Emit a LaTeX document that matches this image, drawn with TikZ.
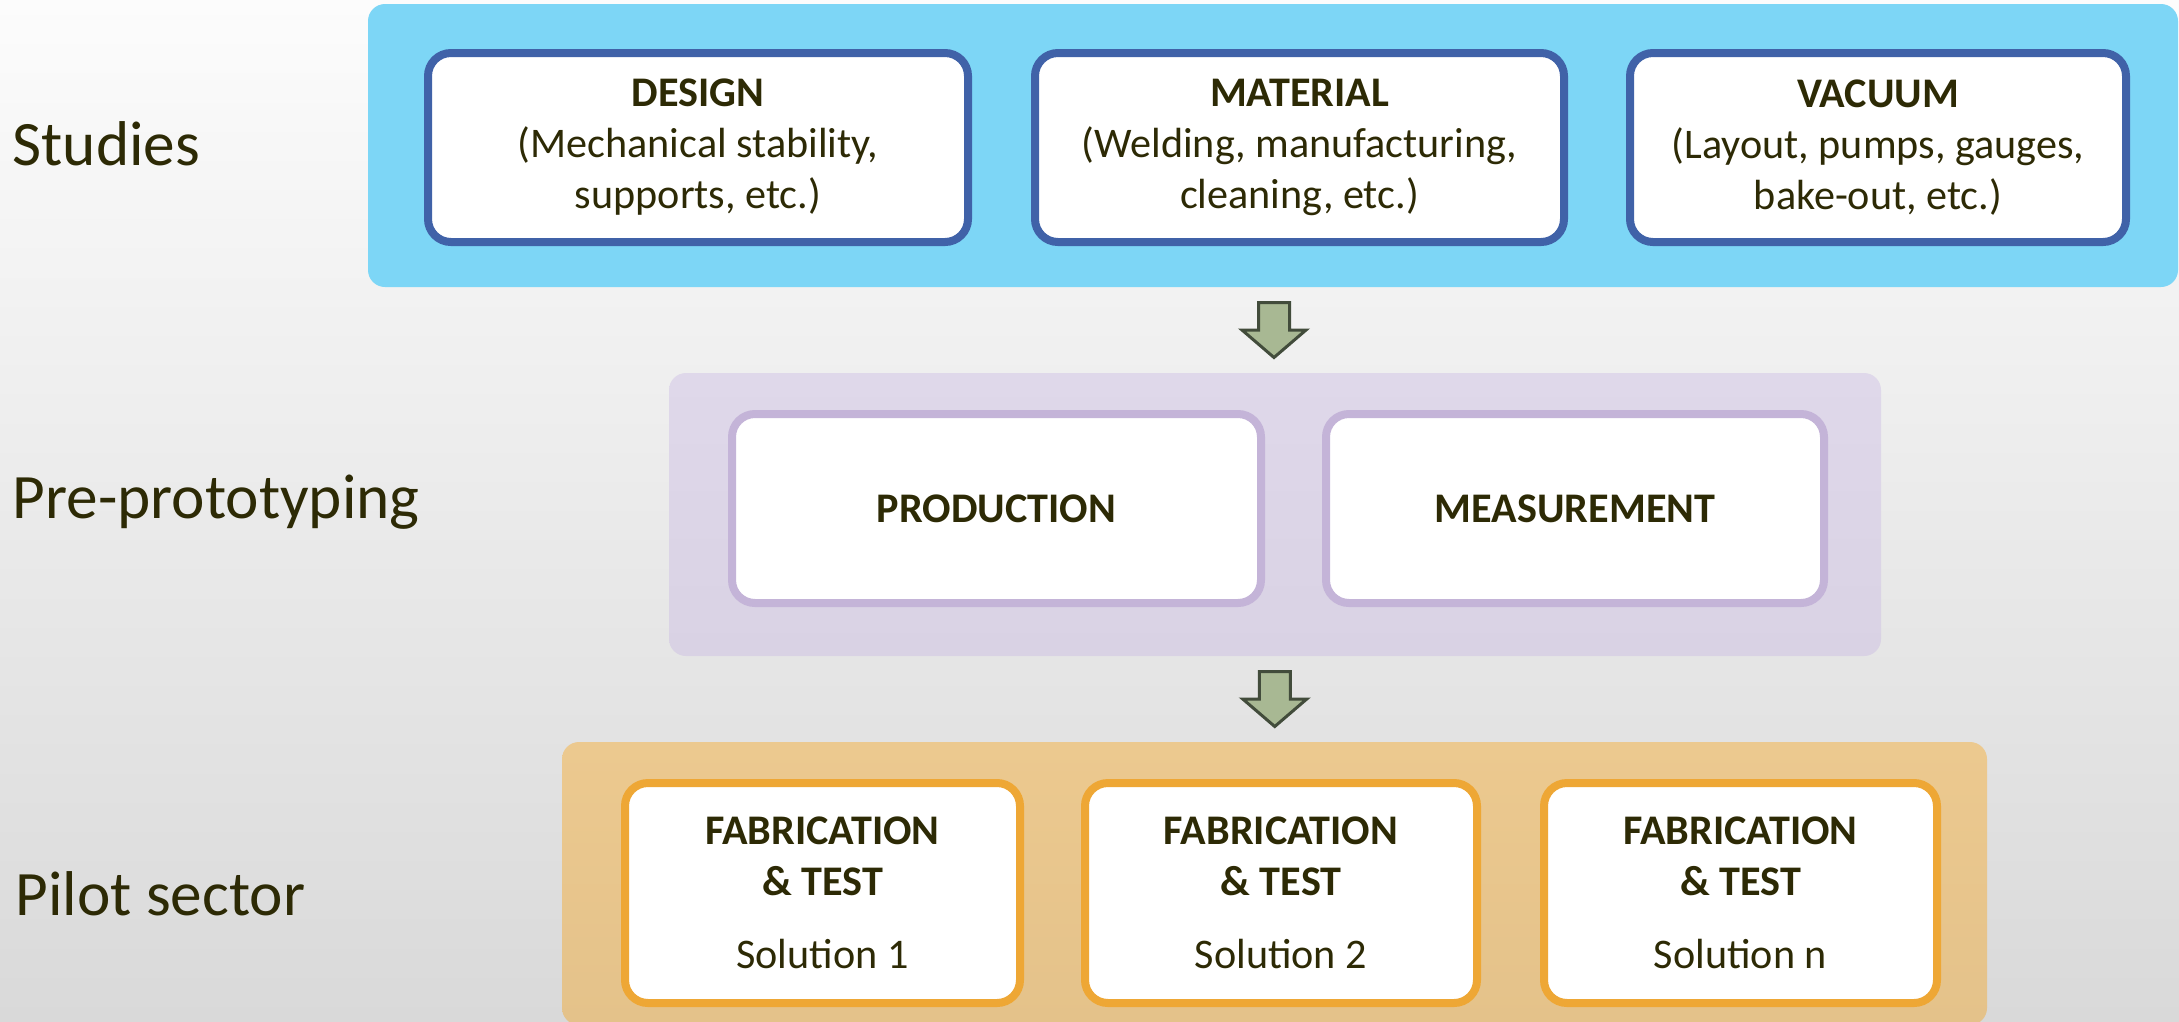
\documentclass[tikz,border=0pt]{standalone}
\usepackage{fontspec}
\setmainfont{Carlito}
\usetikzlibrary{calc}

\definecolor{ink}{RGB}{45,42,5}
\definecolor{bgtop}{RGB}{252,252,252}
\definecolor{bgmid}{RGB}{247,247,247}
\definecolor{bgbot}{RGB}{217,217,217}
\definecolor{skyfill}{RGB}{125,214,246}
\definecolor{skyline}{RGB}{64,98,168}
\definecolor{lilactop}{RGB}{223,216,234}
\definecolor{lilacbot}{RGB}{217,210,228}
\definecolor{lilacline}{RGB}{196,180,216}
\definecolor{sandtop}{RGB}{236,201,143}
\definecolor{sandbot}{RGB}{228,194,138}
\definecolor{sandline}{RGB}{238,167,53}
\definecolor{arrowfill}{RGB}{168,184,147}
\definecolor{arrowline}{RGB}{66,76,59}

\begin{document}
\begin{tikzpicture}[
  panel/.style={rounded corners=0.17cm,minimum height=2.83cm,inner sep=0pt},
  box/.style={draw,fill=white,line width=0.08cm,rounded corners=0.23cm,minimum height=1.89cm,align=center,text=ink,font=\fontsize{12}{14.5}\selectfont,inner sep=0pt},
  stage/.style={anchor=base west,inner sep=0pt,text=ink,font=\fontsize{18}{22}\selectfont},
  flowarrow/.style={draw=arrowline,fill=arrowfill,line width=0.03cm,line join=miter}
]
\useasboundingbox (0,0) rectangle (21.79,-10.21);
\shade[top color=bgtop,middle color=bgmid,bottom color=bgbot] (0,0) rectangle (21.79,-10.21);

% the three stages
\node[panel,fill=skyfill,minimum width=18.10cm] (studies) at (12.73,-1.455) {};
\node[panel,top color=lilactop,bottom color=lilacbot,minimum width=12.12cm] (proto) at (12.75,-5.145) {};
\node[panel,top color=sandtop,bottom color=sandbot,minimum width=14.25cm] (pilot) at (12.745,-8.835) {};

\node[stage] (lstudies) at (0.12,-1.65) {Studies};
\node[stage] (lproto) at (0.12,-5.18) {Pre-prototyping};
\node[stage] (lpilot) at (0.15,-9.15) {Pilot sector};

% studies
\node[box,draw=skyline,minimum width=5.40cm] (design) at (6.98,-1.475) {\textbf{DESIGN}\\(Mechanical stability,\\supports, etc.)};
\node[box,draw=skyline,minimum width=5.29cm] (material) at (12.995,-1.475) {\textbf{MATERIAL}\\(Welding, manufacturing,\\cleaning, etc.)};
\node[box,draw=skyline,minimum width=4.96cm] (vacuum) at (18.78,-1.475) {\textbf{VACUUM}\\(Layout, pumps, gauges,\\bake-out, etc.)};

% pre-prototyping
\node[box,draw=lilacline,minimum width=5.29cm] (production) at (9.965,-5.085) {\textbf{PRODUCTION}};
\node[box,draw=lilacline,minimum width=4.98cm] (measurement) at (15.75,-5.085) {\textbf{MEASUREMENT}};

% pilot sector
\node[box,draw=sandline,minimum width=3.95cm,minimum height=2.20cm] (fab1) at (8.225,-8.93) {\textbf{FABRICATION}\\\textbf{\& TEST}\\[0.22cm]Solution 1};
\node[box,draw=sandline,minimum width=3.92cm,minimum height=2.20cm] (fab2) at (12.81,-8.93) {\textbf{FABRICATION}\\\textbf{\& TEST}\\[0.22cm]Solution 2};
\node[box,draw=sandline,minimum width=3.93cm,minimum height=2.20cm] (fabn) at (17.405,-8.93) {\textbf{FABRICATION}\\\textbf{\& TEST}\\[0.22cm]Solution n};

% block arrows between the stages
\draw[flowarrow] ($(studies.south)!0.5!(proto.north)$) ++(-0.155,0.275) -- ++(0.31,0) -- ++(0,-0.275) -- ++(0.165,0) -- ++(-0.32,-0.275) -- ++(-0.32,0.275) -- ++(0.165,0) -- cycle;
\draw[flowarrow] ($(proto.south)!0.5!(pilot.north)$) ++(-0.155,0.275) -- ++(0.31,0) -- ++(0,-0.275) -- ++(0.165,0) -- ++(-0.32,-0.275) -- ++(-0.32,0.275) -- ++(0.165,0) -- cycle;
\end{tikzpicture}
\end{document}
